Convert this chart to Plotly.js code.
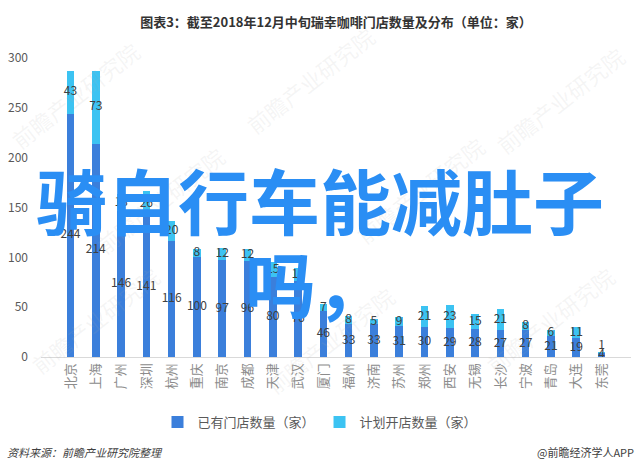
<!DOCTYPE html>
<html>
<head>
<meta charset="utf-8">
<script src="https://cdn.plot.ly/plotly-3.0.1.min.js"></script>
<style>
  html, body { margin: 0; padding: 0; background: #fff; }
  #plot { width: 640px; height: 470px; }
</style>
</head>
<body>
<div id="plot"></div>
<script>
// cities and store counts
let cities = ['北京', '上海', '广州', '深圳', '杭州', '重庆', '南京', '成都', '天津', '武汉', '厦门',
              '福州', '济南', '苏州', '郑州', '西安', '无锡', '长沙', '宁波', '青岛', '大连', '东莞'];
let existing = [244, 214, 146, 141, 116, 100, 97, 96, 80, 76, 46, 33, 33, 31, 30, 29, 28, 27, 27, 21, 19, 4];
let planned = [43, 73, 18, 26, 20, 8, 12, 12, 15, 13, 7, 8, 5, 9, 21, 23, 15, 21, 8, 6, 11, 1];
let yTicks = [0, 50, 100, 150, 200, 250, 300];

const font = '"Noto Sans CJK SC", "Noto Sans", sans-serif';
const darkBlue = '#3b7fdb';
const lightBlue = '#3cc3f2';

// labels sit in the middle of each segment
let existingLabelY = existing.map(v => v / 2);
let plannedPos = planned.map(v => v < 3 ? 'top center' : 'middle center');
let plannedTextY = planned.map((v, i) => v < 3 ? existing[i] + v : existing[i] + v / 2);

let traces = [
    {
        type: 'bar', x: cities, y: existing, name: '已有门店数量（家）',
        marker: { color: darkBlue }, hoverinfo: 'skip'
    },
    {
        type: 'bar', x: cities, y: planned, name: '计划开店数量（家）',
        marker: { color: lightBlue }, hoverinfo: 'skip'
    },
    {
        type: 'scatter', mode: 'text', x: cities, y: existingLabelY,
        text: existing.map(String), textposition: 'middle center',
        textfont: { family: font, size: 12, color: '#404040' },
        showlegend: false, hoverinfo: 'skip', cliponaxis: false
    },
    {
        type: 'scatter', mode: 'text', x: cities, y: plannedTextY,
        text: planned.map(String), textposition: plannedPos,
        textfont: { family: font, size: 12, color: '#404040' },
        showlegend: false, hoverinfo: 'skip', cliponaxis: false
    }
];

// faint watermarks
let marks = [[75, 95], [310, 80], [560, 100], [160, 200], [420, 190], [95, 320], [330, 340], [550, 320]];
let annotations = marks.map(p => ({
    xref: 'paper', yref: 'paper',
    x: (p[0] - 41) / 590, y: (357 - p[1]) / 299,
    xanchor: 'center', yanchor: 'middle',
    text: '前瞻产业研究院', showarrow: false, textangle: -38,
    font: { family: font, size: 22, color: 'rgba(170,170,170,0.12)' }
}));

annotations.push(
    {
        xref: 'paper', yref: 'paper', x: (320 - 41) / 590, y: (357 - 198) / 299,
        xanchor: 'center', yanchor: 'middle',
        text: '骑自行车能减肚子', showarrow: false,
        font: { family: font, size: 71, color: '#2a8ef4', weight: 'bold' }
    },
    {
        xref: 'paper', yref: 'paper', x: (316 - 41) / 590, y: (357 - 281) / 299,
        xanchor: 'center', yanchor: 'middle',
        text: '吗，', showarrow: false,
        font: { family: font, size: 71, color: '#2a8ef4', weight: 'bold' }
    },
    {
        xref: 'paper', yref: 'paper', x: -36 / 590, y: (357 - 452) / 299,
        xanchor: 'left', yanchor: 'middle', text: '资料来源：前瞻产业研究院整理', showarrow: false,
        font: { family: font, size: 11, color: '#404040', style: 'italic' }
    },
    {
        xref: 'paper', yref: 'paper', x: (636 - 41) / 590, y: (357 - 452) / 299,
        xanchor: 'right', yanchor: 'middle', text: '@前瞻经济学人APP', showarrow: false,
        font: { family: font, size: 11, color: '#404040' }
    }
);

let layout = {
    width: 640, height: 470,
    margin: { l: 41, r: 9, t: 58, b: 113 },
    paper_bgcolor: '#fff', plot_bgcolor: '#fff',
    barmode: 'stack', bargap: 0.7,
    title: {
        text: '图表3：截至2018年12月中旬瑞幸咖啡门店数量及分布（单位：家）',
        x: 0.5, xref: 'paper', y: 0.953, yanchor: 'middle',
        font: { family: font, size: 13, color: '#333', weight: 'bold' }
    },
    xaxis: {
        tickangle: -90, showgrid: false, ticks: '',
        showline: true, linecolor: '#d9d9d9', linewidth: 1,
        tickfont: { family: font, size: 13, color: '#8c8c8c' }
    },
    yaxis: {
        range: [0, 300], tickvals: yTicks, showgrid: false, zeroline: false,
        showline: false, ticklabelstandoff: 12,
        tickfont: { family: font, size: 12, color: '#595959' }
    },
    legend: {
        orientation: 'h', traceorder: 'normal',
        x: (320 - 41) / 590, xanchor: 'center',
        y: (357 - 422) / 299, yanchor: 'middle',
        font: { family: font, size: 13, color: '#595959' },
        itemwidth: 30
    },
    showlegend: true,
    hovermode: false,
    annotations: annotations
};

Plotly.newPlot('plot', traces, layout, { displayModeBar: false, staticPlot: true });
</script>
</body>
</html>
